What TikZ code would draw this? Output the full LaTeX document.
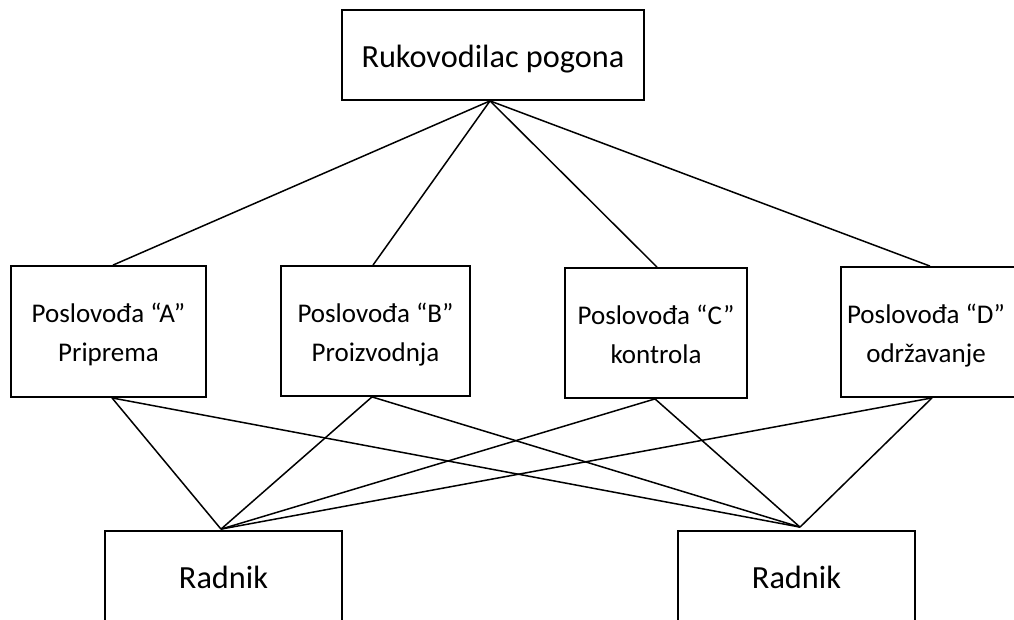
\documentclass[tikz,border=0pt]{standalone}
\usepackage{fontspec}
\setmainfont{Carlito}
% invisible struts that give every two-line label the same vertical extent
\newcommand\ascentpad{\rule{0pt}{27pt}}
\newcommand\descentpad{\rule[-6pt]{0pt}{6pt}}
\begin{document}
\begin{tikzpicture}[x=1pt,y=-1pt,
  box/.style={draw=black, line width=1.8pt, rectangle, inner sep=0pt, align=center},
  link/.style={draw=black, line width=1.5pt},
  head/.style={font=\fontsize{32.3}{38}\selectfont},
  dept/.style={font=\fontsize{27}{39}\selectfont, align=center},
]
\useasboundingbox (0,0) rectangle (1014,619);
\clip (0,0) rectangle (1014,619);

% head of the plant
\node[box, head, minimum width=302pt, minimum height=90pt] (top) at (493,55)
  {\rule{0pt}{30pt}Rukovodilac pogona};

% foremen
\node[box, dept, minimum width=195pt, minimum height=131pt] (A) at (108.5,331.5)
  {\ascentpad Poslovođa “A”\\Priprema\descentpad};
\node[box, dept, minimum width=189pt, minimum height=130pt] (B) at (375.5,331)
  {\ascentpad Poslovođa “B”\\Proizvodnja\descentpad};
\node[box, dept, minimum width=182pt, minimum height=130pt] (C) at (656,333)
  {\ascentpad Poslovođa “C”\\kontrola\descentpad};
\node[box, minimum width=175pt, minimum height=130pt] (D) at (928.5,332) {};
\node[dept] (Dtext) at (926,332)
  {\ascentpad Poslovođa “D”\\održavanje\descentpad};

% workers
\node[box, head, minimum width=237pt, minimum height=92pt] (W1) at (223.5,577) {Radnik};
\node[box, head, minimum width=237pt, minimum height=92pt] (W2) at (796.5,577) {Radnik};

% attachment points
\coordinate (apex) at ([xshift=-3pt]top.south);
\coordinate (Atop) at ([xshift=4.5pt]A.north);
\coordinate (Btop) at ([xshift=-2.5pt]B.north);
\coordinate (Ctop) at ([xshift=1pt]C.north);
\coordinate (Dtop) at ([xshift=1.5pt]D.north);
\coordinate (Abot) at ([xshift=3.5pt]A.south);
\coordinate (Bbot) at ([xshift=-3.5pt]B.south);
\coordinate (Cbot) at ([xshift=-1pt]C.south);
\coordinate (Dbot) at ([xshift=3.5pt]D.south);
\coordinate (W1top) at ([xshift=-2.5pt,yshift=1pt]W1.north);
\coordinate (W2top) at ([xshift=3.5pt,yshift=3pt]W2.north);

% head to foremen
\foreach \f in {Atop,Btop,Ctop,Dtop}
  \draw[link] (apex) -- (\f);

% foremen to workers
\foreach \f in {Abot,Bbot,Cbot,Dbot}{
  \draw[link] (\f) -- (W1top);
  \draw[link] (\f) -- (W2top);
}
\end{tikzpicture}
\end{document}
